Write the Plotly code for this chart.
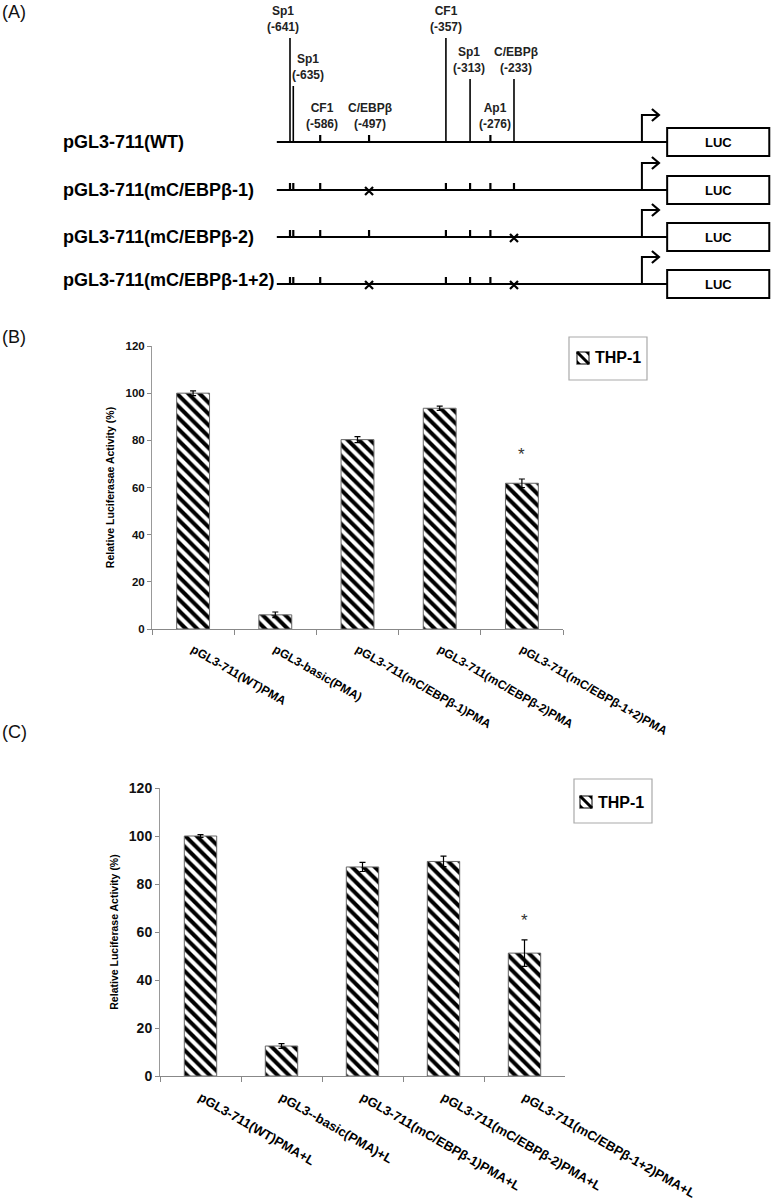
import plotly.graph_objects as go

# ---------------- data ----------------
# Panel A: promoter sites (name, position in bp)
site_names = ["Sp1", "Sp1", "CF1", "C/EBPβ", "CF1", "Sp1", "Ap1", "C/EBPβ"]
site_pos = [-641, -635, -586, -497, -357, -313, -276, -233]
constructs = ["pGL3-711(WT)", "pGL3-711(mC/EBPβ-1)", "pGL3-711(mC/EBPβ-2)", "pGL3-711(mC/EBPβ-1+2)"]
mutated = [[], [-497], [-233], [-497, -233]]
construct_start = -665
tss = 0
luc_start, luc_end = 46, 232

# Panel B
cats_b = ["pGL3-711(WT)PMA", "pGL3-basic(PMA)", "pGL3-711(mC/EBPβ-1)PMA",
          "pGL3-711(mC/EBPβ-2)PMA", "pGL3-711(mC/EBPβ-1+2)PMA"]
vals_b = [100, 6.0, 80.3, 93.6, 61.8]
err_b = [1.0, 1.2, 1.3, 0.9, 1.8]

# Panel C
cats_c = ["pGL3-711(WT)PMA+L", "pGL3--basic(PMA)+L", "pGL3-711(mC/EBPβ-1)PMA+L",
          "pGL3-711(mC/EBPβ-2)PMA+L", "pGL3-711(mC/EBPβ-1+2)PMA+L"]
vals_c = [100, 12.5, 87.1, 89.4, 51.2]
err_c = [0.6, 1.0, 1.9, 2.2, 5.5]

series_name = "THP-1"

# ---------------- layout constants ----------------
W, H = 771, 1202
FONT = "Liberation Sans, Arial, sans-serif"
PX_PER_BP = 0.549
REF_BP, REF_PX = -641, 290


def fx(px):
    return px / W


def fy(py):
    return 1 - py / H


def px2bp(px):
    return (px - REF_PX) / PX_PER_BP + REF_BP


def bp2px(bp):
    return REF_PX + (bp - REF_BP) * PX_PER_BP


row_y = [142, 190, 237, 284]
label_y = [142, 190, 237, 280]
site_top = [38, 86, None, None, 38, 79, None, 79]
site_shift = [-7, 15, 2, 1, 0, -1, 5, 2]
tick_h = 7

fig = go.Figure()
shapes = []
annotations = []

for i, name in enumerate(constructs):
    y0 = row_y[i]
    shapes.append(dict(type="line", x0=construct_start, x1=luc_start, y0=y0, y1=y0,
                       xref="x", yref="y", line=dict(color="black", width=2)))
    for s, p in enumerate(site_pos):
        if p in mutated[i]:
            continue
        top = y0 - tick_h
        long_line = i == 0 and site_top[s] is not None
        if long_line:
            top = site_top[s]
        shapes.append(dict(type="line", x0=p, x1=p, y0=y0, y1=top, xref="x", yref="y",
                           line=dict(color="black", width=1.6 if long_line else 2.2)))
    # TSS arrow
    elbow_end = px2bp(bp2px(tss) + 16)
    shapes.append(dict(type="path", xref="x", yref="y",
                       path=f"M {tss},{y0} L {tss},{y0 - 27} L {elbow_end},{y0 - 27}",
                       line=dict(color="black", width=2)))
    tip = px2bp(bp2px(tss) + 17)
    back = px2bp(bp2px(tss) + 10)
    shapes.append(dict(type="path", xref="x", yref="y",
                       path=f"M {back},{y0 - 33} L {tip},{y0 - 27} L {back},{y0 - 21}",
                       line=dict(color="black", width=2.2)))
    # LUC box
    shapes.append(dict(type="rect", xref="x", yref="y", x0=luc_start, x1=luc_end,
                       y0=y0 - 14, y1=y0 + 14, line=dict(color="black", width=2),
                       fillcolor="white"))
    annotations.append(dict(x=(luc_start + luc_end) / 2, y=y0, xref="x", yref="y",
                            text="<b>LUC</b>", showarrow=False,
                            font=dict(size=13, color="black", family=FONT)))
    annotations.append(dict(x=fx(61), y=label_y[i], xref="paper", yref="y", xanchor="left",
                            text=f"<b>{name}</b>", showarrow=False,
                            font=dict(size=18, color="black", family=FONT)))
    if mutated[i]:
        fig.add_trace(go.Scatter(x=mutated[i], y=[y0 + 1] * len(mutated[i]), mode="markers",
                                 xaxis="x", yaxis="y", showlegend=False, hoverinfo="skip",
                                 marker=dict(symbol="x-thin", size=8,
                                             line=dict(color="black", width=2.2))))

# site labels
for s, (n, p) in enumerate(zip(site_names, site_pos)):
    top = site_top[s] if site_top[s] is not None else row_y[0] - tick_h
    annotations.append(dict(x=p, y=top - 2, xref="x", yref="y", yanchor="bottom",
                            xshift=site_shift[s], text=f"<b>{n}<br>({p})</b>",
                            showarrow=False, align="center",
                            font=dict(size=12, color="#222", family=FONT)))

# panel letters
for txt, ypx in [("(A)", 12), ("(B)", 337), ("(C)", 732)]:
    annotations.append(dict(x=fx(0), y=fy(ypx), xref="paper", yref="paper",
                            xanchor="left", yanchor="middle", text=txt, showarrow=False,
                            font=dict(size=18, color="#111", family=FONT)))

# ---------------- bar charts ----------------
pattern = dict(shape="\\", fgcolor="black", bgcolor="white", size=8, solidity=0.5)

fig.add_trace(go.Bar(x=cats_b, y=vals_b, name=series_name, xaxis="x2", yaxis="y2", width=0.4,
                     marker=dict(color="white", pattern=pattern, line=dict(color="#666", width=1)),
                     error_y=dict(type="data", array=err_b, color="black", thickness=1.2, width=3),
                     showlegend=False))
fig.add_trace(go.Bar(x=cats_c, y=vals_c, name=series_name, xaxis="x3", yaxis="y3", width=0.4,
                     marker=dict(color="white", pattern=pattern, line=dict(color="#666", width=1)),
                     error_y=dict(type="data", array=err_c, color="black", thickness=1.2, width=3),
                     showlegend=False))

annotations.append(dict(x=cats_b[4], y=74, xref="x2", yref="y2", text="*", showarrow=False,
                        font=dict(size=17, color="#333", family=FONT)))
annotations.append(dict(x=cats_c[4], y=65, xref="x3", yref="y3", text="*", showarrow=False,
                        font=dict(size=17, color="#333", family=FONT)))

# legend boxes (frame, key swatch, label)
legend_boxes = [((569, 337, 647, 380), (577, 352, 589, 364), 593),
                ((574, 779, 652, 823), (580, 796, 592, 808), 596)]
for (bx0, by0, bx1, by1), (sx0, sy0, sx1, sy1), tx in legend_boxes:
    shapes.append(dict(type="rect", xref="paper", yref="paper", x0=fx(bx0), x1=fx(bx1),
                       y0=fy(by1), y1=fy(by0), line=dict(color="#aaa", width=1.2)))
    shapes.append(dict(type="rect", xref="paper", yref="paper", x0=fx(sx0), x1=fx(sx1),
                       y0=fy(sy1), y1=fy(sy0), fillcolor="white",
                       line=dict(color="#555", width=1.5)))
    # corner wedges + diagonal stripe
    shapes.append(dict(type="path", xref="paper", yref="paper", fillcolor="black",
                       line=dict(width=0),
                       path=f"M {fx(sx1 - 4)},{fy(sy0)} L {fx(sx1)},{fy(sy0)} L {fx(sx1)},{fy(sy0 + 4)} Z"))
    shapes.append(dict(type="path", xref="paper", yref="paper", fillcolor="black",
                       line=dict(width=0),
                       path=f"M {fx(sx0)},{fy(sy1 - 4)} L {fx(sx0)},{fy(sy1)} L {fx(sx0 + 4)},{fy(sy1)} Z"))
    shapes.append(dict(type="line", xref="paper", yref="paper", x0=fx(sx0), y0=fy(sy0),
                       x1=fx(sx1), y1=fy(sy1), line=dict(color="black", width=3)))
    annotations.append(dict(x=fx(tx), y=fy((sy0 + sy1) / 2), xref="paper", yref="paper",
                            xanchor="left", yanchor="middle", text=f"<b>{series_name}</b>",
                            showarrow=False, font=dict(size=16, color="black", family=FONT)))


def xax(domain, tickfs):
    return dict(domain=domain, type="category", tickson="boundaries", ticks="outside",
                ticklen=5, tickcolor="#888", showline=True, linecolor="#888", linewidth=1,
                tickangle=30, ticklabelstandoff=8, showgrid=False, automargin=False,
                tickfont=dict(size=tickfs, color="black", family=FONT, weight="bold"))


def yax(domain, tickfs, title, anchor):
    return dict(domain=domain, range=[0, 120], dtick=20, ticks="outside", ticklen=4,
                tickcolor="#888", showline=True, linecolor="#999", linewidth=1, showgrid=False,
                zeroline=False, anchor=anchor, automargin=False,
                tickfont=dict(size=tickfs, color="#111", family=FONT, weight="bold"),
                title=dict(text=title, standoff=8,
                           font=dict(size=10.5, color="black", family=FONT, weight="bold")))


fig.update_layout(
    template="none",
    width=W, height=H, margin=dict(l=0, r=0, t=0, b=0, autoexpand=False),
    paper_bgcolor="white", plot_bgcolor="white",
    font=dict(family=FONT, color="black"),
    showlegend=False,
    xaxis=dict(domain=[0, 1], range=[px2bp(0), px2bp(W)], visible=False, anchor="y",
               automargin=False),
    yaxis=dict(domain=[fy(300), 1], range=[300, 0], visible=False, anchor="x",
               automargin=False),
    xaxis2={**xax([fx(152), fx(563)], 12), "anchor": "y2"},
    yaxis2=yax([fy(629), fy(346)], 11.5, "Relative Luciferasae Activity (%)", "x2"),
    xaxis3={**xax([fx(160), fx(565)], 13), "anchor": "y3"},
    yaxis3=yax([fy(1076), fy(788)], 14, "Relative Luciferase Activity (%)", "x3"),
    shapes=shapes, annotations=annotations, bargap=0.6,
)

fig.write_html("out.html", config={"displayModeBar": False},
               post_script="document.body.style.margin='0';")
